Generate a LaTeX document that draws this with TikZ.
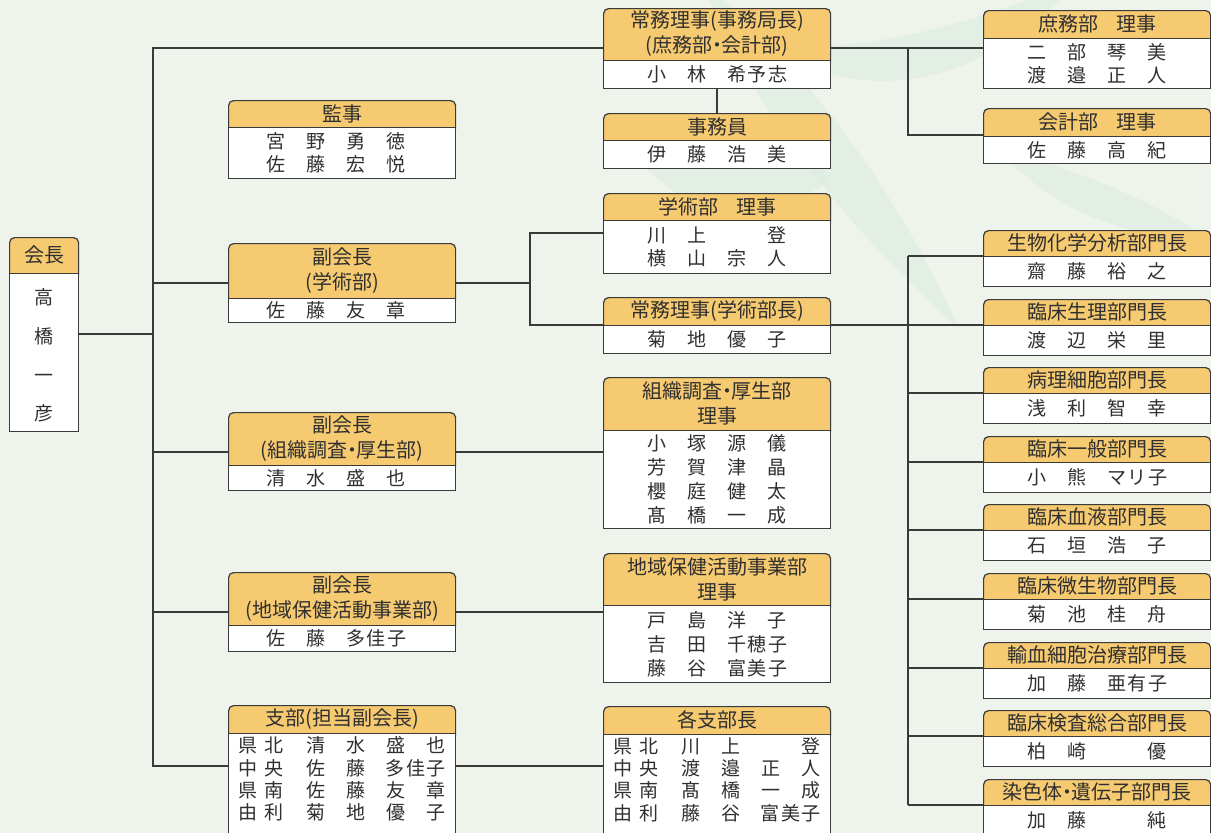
\documentclass[tikz,border=0pt]{standalone}
\usepackage{fontspec}
\setmainfont{Noto Sans CJK JP}
\makeatletter
\providecommand\tikzscope@linewidth{1.2pt}
\makeatother
\definecolor{bg}{RGB}{238,243,236}
\definecolor{leaf}{RGB}{221,236,225}
\definecolor{hd}{RGB}{246,202,112}
\definecolor{lc}{RGB}{58,58,58}
\definecolor{tx}{RGB}{48,48,48}
\tikzset{
  hdrbox/.style={draw=lc, fill=hd, line width=1.2pt, rounded corners=5pt, inner sep=0pt, anchor=north west},
  bodybox/.style={draw=lc, fill=white, line width=1.2pt, inner sep=0pt, anchor=north west},
  hdrtext/.style={font=\fontsize{20}{25}\selectfont, text=tx, align=center, inner sep=0pt},
  bodytext/.style={font=\fontsize{19}{23}\selectfont, text=tx, align=center, inner sep=0pt},
  rows22/.style={font=\fontsize{19}{22.4}\selectfont},
  rows24/.style={font=\fontsize{19}{24}\selectfont},
  rowsV/.style={font=\fontsize{19}{38.7}\selectfont},
  conn/.style={draw=lc, line width=1.2pt},
}
\newcommand\Cel[1]{\makebox[40pt]{#1}}
\newcommand\nm[4]{\Cel{#1}\Cel{#2}\Cel{#3}\Cel{#4}}
\newcommand\nmt[3]{\Cel{#1}\Cel{#2}\makebox[80pt]{#3}}
\newcommand\tri[3]{#1\kern1.5pt#2\kern1.5pt#3}
\newcommand\pre[2]{\makebox[26pt]{#1}\makebox[26pt]{#2}\hspace*{9pt}}
\newcommand\mdt{\makebox[9pt]{・}}
% name, x, y, w, header h, body h, header text, body text, body text options
\newcommand\obox[9]{%
  \node[hdrbox, minimum width=#4pt, minimum height=#5pt+6pt] (#1h) at (#2pt,-#3pt) {};
  \node[bodybox, minimum width=#4pt, minimum height=#6pt, yshift=-#5pt] (#1b) at (#1h.north west) {};
  \node[hdrtext, yshift=-#5pt/2] (#1t) at (#1h.north) {#7};
  \node[bodytext, #9] (#1n) at (#1b.center) {#8};
}
\begin{document}
\begin{tikzpicture}[line width=1.2pt]
\useasboundingbox (0pt,0pt) rectangle (1211pt,-833pt);
\fill[bg] (0pt,0pt) rectangle (1211pt,-833pt);
% faint leaf watermark
\fill[leaf, fill opacity=0.6] (700pt,20pt) .. controls (760pt,-120pt) and (840pt,-220pt) .. (960pt,-330pt) .. controls (900pt,-200pt) and (820pt,-80pt) .. (700pt,20pt);
\fill[leaf, fill opacity=0.6] (760pt,-40pt) .. controls (860pt,-60pt) and (980pt,-20pt) .. (1080pt,20pt) .. controls (980pt,-90pt) and (860pt,-110pt) .. (760pt,-40pt);
\fill[leaf, fill opacity=0.6] (640pt,-160pt) .. controls (700pt,-110pt) and (780pt,-120pt) .. (830pt,-180pt) .. controls (760pt,-230pt) and (690pt,-220pt) .. (640pt,-160pt);
\fill[leaf, fill opacity=0.6] (1000pt,-150pt) .. controls (1080pt,-170pt) and (1150pt,-200pt) .. (1211pt,-240pt) .. controls (1130pt,-240pt) and (1050pt,-210pt) .. (1000pt,-150pt);
% ---------- junction coordinates ----------
\coordinate (tT) at (153pt,-48pt);
\coordinate (tB) at (153pt,-766pt);
\coordinate (jK) at (153pt,-334pt);
\coordinate (j1) at (153pt,-283pt);
\coordinate (j2) at (153pt,-452pt);
\coordinate (j3) at (153pt,-612pt);
\coordinate (m1) at (530pt,-283pt);
\coordinate (m2) at (530pt,-233pt);
\coordinate (m3) at (530pt,-325pt);
\coordinate (vJ) at (717pt,-88pt);
\coordinate (r1) at (908pt,-48pt);
\coordinate (r2) at (908pt,-135pt);
\coordinate (d0) at (908pt,-256pt);
\coordinate (d8) at (908pt,-805pt);
\coordinate (dcA) at (908pt,-256pt);
\coordinate (dcC) at (908pt,-393pt);
\coordinate (dcD) at (908pt,-462pt);
\coordinate (dcE) at (908pt,-530pt);
\coordinate (dcF) at (908pt,-599pt);
\coordinate (dcG) at (908pt,-668pt);
\coordinate (dcH) at (908pt,-736pt);
\coordinate (dcI) at (908pt,-805pt);
% ---------- boxes ----------
\obox{kaicho}{9}{237}{69}{36}{158}{会長}{高\\橋\\一\\彦}{rowsV, yshift=-3pt}
\obox{kanji}{228}{100}{227}{27}{51}{監事}{\nm{宮}{野}{勇}{徳}\\\nm{佐}{藤}{宏}{悦}}{xshift=-6pt}
\obox{fukuA}{228}{243}{227}{55}{24}{副会長\\(学術部)}{\nm{佐}{藤}{友}{章}}{xshift=-6pt}
\obox{fukuB}{228}{412}{227}{53}{25}{副会長\\(組織調査\mdt 厚生部)}{\nm{清}{水}{盛}{也}}{xshift=-6pt}
\obox{fukuC}{228}{572}{227}{53}{26}{副会長\\(地域保健活動事業部)}{\nmt{佐}{藤}{\tri{多}{佳}{子}}}{xshift=-6pt}
\obox{shibu}{228}{705}{227}{28}{131}{支部(担当副会長)}{%
  \pre{県}{北}\nm{清}{水}{盛}{也}\\
  \pre{中}{央}\nmt{佐}{藤}{\tri{多}{佳}{子}}\\
  \pre{県}{南}\nm{佐}{藤}{友}{章}\\
  \pre{由}{利}\nm{菊}{地}{優}{子}}{rows22, yshift=20pt, xshift=3pt}
\obox{jimukyoku}{603}{8}{227}{52}{28}{常務理事(事務局長)\\(庶務部\mdt 会計部)}{\nmt{小}{林}{\tri{希}{予}{志}}}{}
\obox{jimuin}{603}{113}{227}{27}{28}{事務員}{\nm{伊}{藤}{浩}{美}}{}
\obox{gakuriji}{603}{193}{227}{27}{53}{学術部\hspace{18pt}理事}{\nm{川}{上}{}{登}\\\nm{横}{山}{宗}{人}}{}
\obox{gakucho}{603}{297}{227}{28}{28}{常務理事(学術部長)}{\nm{菊}{地}{優}{子}}{}
\obox{soshiki}{603}{377}{227}{53}{98}{組織調査\mdt 厚生部\\理事}{%
  \nm{小}{塚}{源}{儀}\\\nm{芳}{賀}{津}{晶}\\\nm{櫻}{庭}{健}{太}\\\nm{髙}{橋}{一}{成}}{rows24}
\obox{chiiki}{603}{553}{227}{52}{77}{地域保健活動事業部\\理事}{%
  \nm{戸}{島}{洋}{子}\\\nmt{吉}{田}{\tri{千}{穂}{子}}\\\nmt{藤}{谷}{\tri{富}{美}{子}}}{rows24}
\obox{shibucho}{603}{706}{227}{28}{130}{各支部長}{%
  \pre{県}{北}\nm{川}{上}{}{登}\\
  \pre{中}{央}\nm{渡}{邉}{正}{人}\\
  \pre{県}{南}\nm{髙}{橋}{一}{成}\\
  \pre{由}{利}\nmt{藤}{谷}{\tri{富}{美}{子}}}{rows22, yshift=20pt, xshift=3pt}
\obox{shomu}{983}{10}{227}{28}{50}{庶務部\hspace{18pt}理事}{\nm{二}{部}{琴}{美}\\\nm{渡}{邉}{正}{人}}{}
\obox{kaikei}{983}{108}{227}{28}{27}{会計部\hspace{18pt}理事}{\nm{佐}{藤}{高}{紀}}{}
\obox{dA}{983}{230}{227}{26}{30}{生物化学分析部門長}{\nm{齋}{藤}{裕}{之}}{}
\obox{dB}{983}{299}{227}{26}{30}{臨床生理部門長}{\nm{渡}{辺}{栄}{里}}{}
\obox{dC}{983}{367}{227}{26}{30}{病理細胞部門長}{\nm{浅}{利}{智}{幸}}{}
\obox{dD}{983}{436}{227}{26}{30}{臨床一般部門長}{\nmt{小}{熊}{\tri{マ}{リ}{子}}}{}
\obox{dE}{983}{504}{227}{26}{30}{臨床血液部門長}{\nm{石}{垣}{浩}{子}}{}
\obox{dF}{983}{573}{227}{26}{30}{臨床微生物部門長}{\nm{菊}{池}{桂}{舟}}{}
\obox{dG}{983}{642}{227}{26}{30}{輸血細胞治療部門長}{\nmt{加}{藤}{\tri{亜}{有}{子}}}{}
\obox{dH}{983}{710}{227}{26}{30}{臨床検査総合部門長}{\nm{柏}{崎}{}{優}}{}
\obox{dI}{983}{779}{227}{26}{60}{染色体\mdt 遺伝子部門長}{\nm{加}{藤}{}{純}}{yshift=15pt}
% ---------- connectors ----------
\draw[conn] (kaichob.east |- jK) -- (jK);
\draw[conn] (jimukyokuh.west |- tT) -- (tT) -- (tB) -- (shibub.west |- tB);
\draw[conn] (j1) -- (fukuAh.west |- j1);
\draw[conn] (j2) -- (fukuBh.west |- j2);
\draw[conn] (j3) -- (fukuCh.west |- j3);
\draw[conn] (jimukyokub.south -| vJ) -- (jimuinh.north -| vJ);
\draw[conn] (jimukyokuh.east |- r1) -- (shomuh.west |- r1);
\draw[conn] (r1) -- (r2) -- (kaikeih.west |- r2);
\draw[conn] (fukuAh.east |- m1) -- (m1);
\draw[conn] (gakurijih.west |- m2) -- (m2) -- (m3) -- (gakuchoh.west |- m3);
\draw[conn] (gakuchoh.east |- m3) -- (dBh.west |- m3);
\draw[conn] (fukuBh.east |- j2) -- (soshikih.west |- j2);
\draw[conn] (fukuCh.east |- j3) -- (chiikih.west |- j3);
\draw[conn] (shibub.east |- tB) -- (shibuchob.west |- tB);
\draw[conn] (d0) -- (d8);
\draw[conn] (dcA) -- (dAh.west |- dcA);
\draw[conn] (dcC) -- (dCh.west |- dcC);
\draw[conn] (dcD) -- (dDh.west |- dcD);
\draw[conn] (dcE) -- (dEh.west |- dcE);
\draw[conn] (dcF) -- (dFh.west |- dcF);
\draw[conn] (dcG) -- (dGh.west |- dcG);
\draw[conn] (dcH) -- (dHh.west |- dcH);
\draw[conn] (dcI) -- (dIh.west |- dcI);
\end{tikzpicture}
\end{document}
